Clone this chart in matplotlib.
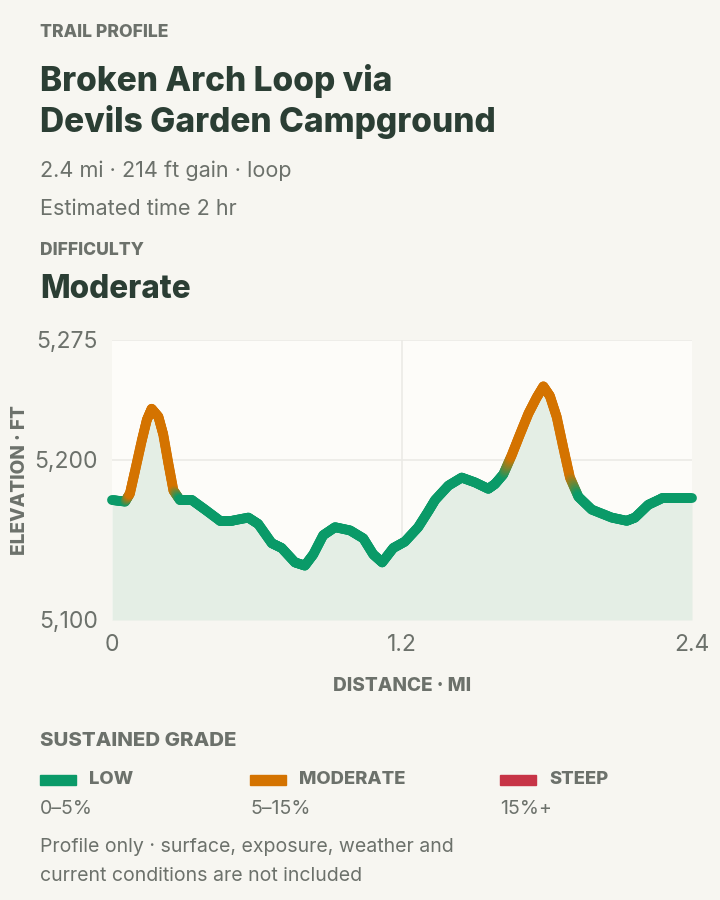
import numpy as np
import matplotlib
matplotlib.use("Agg")
import matplotlib.pyplot as plt
from matplotlib.collections import LineCollection
from matplotlib.colors import to_rgb
from matplotlib.patches import Rectangle

plt.rcParams['font.family'] = ['Inter', 'DejaVu Sans']

# Elevation profile (miles, feet, grade class)
dist_mi = [0.000, 0.054, 0.074, 0.095, 0.123, 0.144, 0.164, 0.192, 0.212,
           0.233, 0.254, 0.281, 0.330, 0.385, 0.447, 0.495, 0.564, 0.605,
           0.661, 0.702, 0.757, 0.798, 0.833, 0.874, 0.923, 0.985, 1.040,
           1.081, 1.118, 1.164, 1.212, 1.267, 1.309, 1.337, 1.392, 1.447,
           1.502, 1.557, 1.585, 1.619, 1.654, 1.688, 1.723, 1.757, 1.785,
           1.812, 1.840, 1.867, 1.895, 1.930, 1.985, 2.068, 2.130, 2.164,
           2.219, 2.275, 2.330, 2.400]
elev_ft = [5175, 5174, 5179, 5193, 5212, 5225, 5232, 5227, 5216,
           5198, 5181, 5175, 5175, 5169, 5162, 5162, 5164, 5160,
           5148, 5145, 5136, 5134, 5141, 5153, 5158, 5156, 5151,
           5141, 5136, 5145, 5149, 5158, 5168, 5175, 5184, 5189,
           5186, 5182, 5185, 5191, 5203, 5216, 5229, 5239, 5246,
           5240, 5227, 5208, 5189, 5177, 5169, 5164, 5162, 5164,
           5172, 5176, 5176, 5176]
grade = ['low', 'low', 'mod', 'mod', 'mod', 'mod', 'mod', 'mod', 'mod',
         'mod', 'mod', 'low', 'low', 'low', 'low', 'low', 'low', 'low',
         'low', 'low', 'low', 'low', 'low', 'low', 'low', 'low', 'low',
         'low', 'low', 'low', 'low', 'low', 'low', 'low', 'low', 'low',
         'low', 'low', 'low', 'low', 'mod', 'mod', 'mod', 'mod', 'mod',
         'mod', 'mod', 'mod', 'mod', 'low', 'low', 'low', 'low', 'low',
         'low', 'low', 'low', 'low']

y_ticks = [5100, 5200, 5275]
x_ticks = [0, 1.2, 2.4]
legend_names = ['LOW', 'MODERATE', 'STEEP']
legend_ranges = ['0–5%', '5–15%', '15%+']

GREEN = '#0a9a68'
ORANGE = '#d47300'
RED = '#c73446'
DARK = '#2b3e34'
GREY = '#6c716b'
BG = '#f7f6f1'
grade_colors = {'low': GREEN, 'mod': ORANGE, 'steep': RED}

W, H = 720, 900
fig = plt.figure(figsize=(7.2, 9), dpi=100, facecolor=BG)


def px(size):
    return size * 0.72


def txt(x, y, s, size, color=GREY, weight='normal', **kw):
    fig.text(x / W, 1 - y / H, s, fontsize=px(size), color=color,
             fontweight=weight, va='baseline', **kw)


# header
txt(40, 37, 'TRAIL PROFILE', 17.5, GREY, 'heavy')
txt(40, 91, 'Broken Arch Loop via', 33.5, DARK, 'heavy')
txt(40, 132, 'Devils Garden Campground', 33.5, DARK, 'heavy')
txt(40, 177, '2.4 mi · 214 ft gain · loop', 21.6, GREY)
txt(40, 215, 'Estimated time 2 hr', 21.6, GREY)
txt(40, 255, 'DIFFICULTY', 17.5, GREY, 'heavy')
txt(40, 298, 'Moderate', 31.5, DARK, 'heavy')

# chart
ax = fig.add_axes([112 / W, 1 - 620 / H, 580 / W, 280 / H])
ax.set_facecolor('#fdfcf9')
ax.set_xlim(0, 2.4)
ax.set_ylim(5100, 5275)
for s in ax.spines.values():
    s.set_visible(False)
ax.axhline(5200, color='#ebeae6', lw=1.2, zorder=1)
ax.axhline(5275, color='#ebeae6', lw=1.2, zorder=1)
ax.axvline(1.2, color='#ebeae6', lw=1.2, zorder=1)

x = np.array(dist_mi)
y = np.array(elev_ft)
ax.fill_between(x, y, 5100, color='#e4eee5', lw=0, zorder=2)

# colour each segment by grade, blending at class changes
segs, cols = [], []
n_sub = 10
for i in range(len(x) - 1):
    c0 = np.array(to_rgb(grade_colors[grade[i]]))
    c1 = np.array(to_rgb(grade_colors[grade[i + 1]]))
    t = np.linspace(0, 1, n_sub + 1)
    xs = x[i] + (x[i + 1] - x[i]) * t
    ys = y[i] + (y[i + 1] - y[i]) * t
    for k in range(n_sub):
        segs.append([(xs[k], ys[k]), (xs[k + 1], ys[k + 1])])
        m = (t[k] + t[k + 1]) / 2
        cols.append(c0 * (1 - m) + c1 * m)
lc = LineCollection(segs, colors=cols, linewidths=px(9.8),
                    capstyle='round', joinstyle='round', zorder=3)
lc.set_clip_on(False)
ax.add_collection(lc)

ax.set_yticks(y_ticks)
ax.set_yticklabels([f'{v:,}' for v in y_ticks])
ax.set_xticks(x_ticks)
ax.set_xticklabels(['0', '1.2', '2.4'])
ax.tick_params(length=0, labelsize=px(23), labelcolor=GREY, pad=px(14))
ax.tick_params(axis='x', pad=px(14))
ax.set_ylabel('ELEVATION · FT', fontsize=px(19), fontweight='heavy',
              color=GREY, labelpad=px(5))
ax.set_xlabel('DISTANCE · MI', fontsize=px(19), fontweight='heavy',
              color=GREY, labelpad=px(21))

# legend
txt(40, 746, 'SUSTAINED GRADE', 20.5, GREY, 'heavy')
lx = [40, 250, 500]
for x0, name, rng, c in zip(lx, legend_names, legend_ranges,
                            [GREEN, ORANGE, RED]):
    fig.patches.append(Rectangle((x0 / W, 1 - 785 / H), 36 / W, 10 / H,
                                 transform=fig.transFigure, color=c))
    txt(x0 + 49, 784, name, 18.5, GREY, 'heavy')
    txt(x0, 814, rng, 19.5, GREY)
txt(40, 852, 'Profile only · surface, exposure, weather and', 19.5, GREY)
txt(40, 881, 'current conditions are not included', 19.5, GREY)

fig.savefig('out.png', dpi=100, facecolor=BG)
